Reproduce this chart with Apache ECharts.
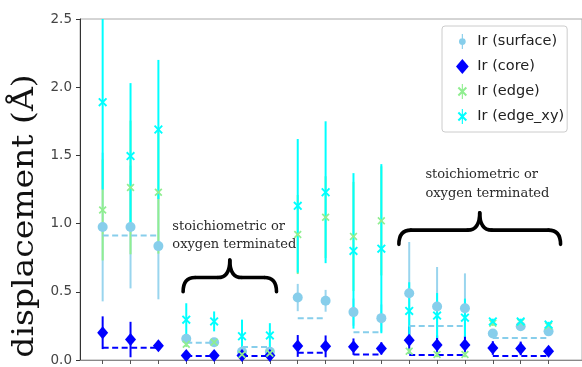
<!DOCTYPE html>
<html>
<head>
<meta charset="utf-8">
<script src="https://cdn.jsdelivr.net/npm/echarts@6/dist/echarts.min.js"></script>
<style>html,body{margin:0;padding:0;background:#fff;}#c{width:582px;height:367px;}</style>
</head>
<body>
<div id="c"></div>
<script>
// ---- data ----
const positions = [1,2,3,4,5,6,7,8,9,10,11,12,13,14,15,16,17];
const surface    = [0.975,0.975,0.835,0.155,0.13,0.06,0.06,0.458,0.434,0.351,0.307,0.49,0.392,0.38,0.194,0.247,0.21];
const surfaceErr = [0.545,0.45,0.39,0.02,0.02,0.02,0.02,0.10,0.08,0.10,0.10,0.375,0.29,0.255,0.03,0.03,0.03];
const core       = [0.2,0.15,0.105,0.033,0.033,0.033,0.033,0.103,0.1,0.098,0.085,0.145,0.11,0.11,0.088,0.085,0.065];
const coreErr    = [0.12,0.13,0.03,0.01,0.01,0.01,0.01,0.08,0.08,0.06,0.045,0.1,0.07,0.07,0.05,0.05,0.03];
const edge       = [1.10,1.265,1.23,0.116,0.13,0.04,0.05,0.92,1.047,0.906,1.02,0.065,0.04,0.04,0.27,0.276,0.25];
const edgeErr    = [0.37,0.49,0.45,0.02,0.02,0.01,0.01,0.29,0.30,0.40,0.40,0.02,0.02,0.02,0.02,0.02,0.02];
const edgeXY     = [1.89,1.495,1.69,0.296,0.283,0.174,0.18,1.13,1.23,0.80,0.816,0.36,0.326,0.31,0.283,0.283,0.26];
const edgeXYErr  = [0.64,0.535,0.51,0.12,0.073,0.122,0.09,0.49,0.52,0.57,0.62,0.21,0.165,0.14,0.02,0.02,0.02];
// reference (dashed) levels per group
const groupStart = [1,4,6,8,10,12,15];
const groupEnd   = [3,5,7,9,11,14,17];
const surfaceRef = [0.913,0.126,0.095,0.307,0.203,0.25,0.162];
const coreRef    = [0.09,0.03,0.03,0.053,0.04,0.036,0.03];
const seriesNames = ['Ir (surface)','Ir (core)','Ir (edge)','Ir (edge_xy)'];
const yTicks = [0,0.5,1.0,1.5,2.0,2.5];
// annotations (data coordinates)
const annoLines = ['stoichiometric or','oxygen terminated'];
const annoTextX = [3.50, 12.58];
const annoTextY = [0.978, 1.357];
const braceX0 = [3.887, 11.63];
const braceX1 = [7.238, 17.43];
const braceYEnd = [0.50, 0.848];
const braceYTip = [0.732, 1.08];

const C_SURF = '#87CEEB', C_CORE = '#0000FF', C_EDGE = '#90EE90', C_XY = '#00FFFF';
const X_PATH = 'path://M0,1.5L1.5,0L5,3.5L8.5,0L10,1.5L6.5,5L10,8.5L8.5,10L5,6.5L1.5,10L0,8.5L3.5,5Z';
const X_LEG = 'path://M0,4.5L1.5,3L5,6.5L8.5,3L10,4.5L6.5,8L10,11.5L8.5,13L5,9.5L1.5,13L0,11.5L3.5,8Z M4.4,0H5.6V16H4.4Z';
const C_LEG = 'path://M8.6,8A3.6,3.6,0,1,1,1.4,8A3.6,3.6,0,1,1,8.6,8Z M4.4,0H5.6V16H4.4Z';
const D_LEG = 'path://M5.5,1.5L11,8L5.5,14.5L0,8Z';

function pts(v){ return positions.map((x,i)=>[x, v[i]]); }
function errData(v,e){ return positions.map((x,i)=>[x, v[i], e[i]]); }
function errSeries(v,e,color,z){
  return {type:'custom', clip:true, z:z, silent:true, data:errData(v,e),
    renderItem:function(params, api){
      const x=api.value(0), y=api.value(1), d=api.value(2);
      const a=api.coord([x,y-d]), b=api.coord([x,y+d]);
      return {type:'line', shape:{x1:a[0],y1:a[1],x2:b[0],y2:b[1]}, style:{stroke:color,lineWidth:2}};
    }};
}
function refSeries(ref,color,z){
  return {type:'custom', clip:true, z:z, silent:true,
    data: groupStart.map((s,i)=>[s, groupEnd[i], ref[i]]),
    renderItem:function(params, api){
      const a=api.coord([api.value(0), api.value(2)]), b=api.coord([api.value(1), api.value(2)]);
      return {type:'line', shape:{x1:a[0],y1:a[1],x2:b[0],y2:b[1]}, style:{stroke:color,lineWidth:2,lineDash:[6,3.5]}};
    }};
}

const chart = echarts.init(document.getElementById('c'), null, {renderer:'canvas'});
chart.setOption({
  animation:false,
  backgroundColor:'#fff',
  grid:{left:80, right:-13, top:19, bottom:3, show:true, borderColor:'#aaa', borderWidth:1},
  xAxis:{type:'value', min:0.187, max:18.2,
    axisLine:{show:true, onZero:false, lineStyle:{color:'#888'}},
    axisTick:{show:true, customValues:positions, length:4, lineStyle:{color:'#555'}},
    axisLabel:{show:false}, splitLine:{show:false}},
  yAxis:{type:'value', min:0, max:2.5, interval:0.5,
    axisLine:{show:true, lineStyle:{color:'#333'}},
    axisTick:{show:true, length:4, lineStyle:{color:'#333'}},
    axisLabel:{margin:8, color:'#444', fontSize:13.5, fontFamily:'DejaVu Sans',
      formatter:function(v){ return v.toFixed(1); }},
    splitLine:{show:false}},
  legend:{orient:'vertical', left:442, top:26, padding:[8,3,8,14], itemGap:10,
    itemWidth:20, itemHeight:15, backgroundColor:'rgba(255,255,255,0.85)',
    borderColor:'#ccc', borderWidth:1, borderRadius:3,
    textStyle:{fontSize:14.5, color:'#222', fontFamily:'DejaVu Sans'},
    data:[{name:seriesNames[0], icon:C_LEG},{name:seriesNames[1], icon:D_LEG},
          {name:seriesNames[2], icon:X_LEG},{name:seriesNames[3], icon:X_LEG}]},
  series:[
    errSeries(surface,surfaceErr,'rgba(135,206,235,0.85)',1),
    errSeries(core,coreErr,C_CORE,2),
    errSeries(edge,edgeErr,C_EDGE,3),
    errSeries(edgeXY,edgeXYErr,C_XY,4),
    refSeries(surfaceRef,C_SURF,5),
    refSeries(coreRef,C_CORE,5),
    {name:seriesNames[0], type:'scatter', z:6, symbol:'circle', symbolSize:10, data:pts(surface), itemStyle:{color:C_SURF, opacity:1}},
    {name:seriesNames[1], type:'scatter', z:7, symbol:'diamond', symbolSize:[11,13], data:pts(core), itemStyle:{color:C_CORE, opacity:1}},
    {name:seriesNames[2], type:'scatter', z:8, symbol:X_PATH, symbolSize:8, data:pts(edge), itemStyle:{color:C_EDGE, opacity:1}},
    {name:seriesNames[3], type:'scatter', z:9, symbol:X_PATH, symbolSize:9, data:pts(edgeXY), itemStyle:{color:C_XY, opacity:1}}
  ]
});

const braceStyle = {fill:'none', stroke:'#000', lineWidth:3.6, lineCap:'round'};
function braceParts(i){
  const p0 = chart.convertToPixel({gridIndex:0},[braceX0[i], braceYEnd[i]]);
  const p1 = chart.convertToPixel({gridIndex:0},[braceX1[i], braceYEnd[i]]);
  const pt = chart.convertToPixel({gridIndex:0},[(braceX0[i]+braceX1[i])/2, braceYTip[i]]);
  const x0=p0[0], x1=p1[0], yE=p0[1], xm=pt[0], yT=pt[1];
  const yB = yT + (yE-yT)*0.55, r=12;
  const curve = (a,b,c,d,e,f)=>({type:'bezierCurve', silent:true, shape:{x1:a,y1:b,cpx1:c,cpy1:d,x2:e,y2:f}, style:braceStyle});
  const line = (a,b,c,d)=>({type:'line', silent:true, shape:{x1:a,y1:b,x2:c,y2:d}, style:braceStyle});
  return [
    curve(x0,yE, x0,yB, x0+r,yB),
    line(x0+r,yB, xm-r,yB),
    curve(xm-r,yB, xm,yB, xm,yT),
    curve(xm,yT, xm,yB, xm+r,yB),
    line(xm+r,yB, x1-r,yB),
    curve(x1-r,yB, x1,yB, x1,yE)
  ];
}
const gfx = [];
for (let i=0;i<2;i++){
  const tp = chart.convertToPixel({gridIndex:0},[annoTextX[i], annoTextY[i]]);
  gfx.push({type:'text', x:tp[0], y:tp[1]-9, silent:true,
    style:{text:annoLines.join('\n'), fill:'#2a2a2a', font:'13px "DejaVu Serif"', lineHeight:18.3, textAlign:'left', textVerticalAlign:'top'}});
  braceParts(i).forEach(p=>gfx.push(p));
}
gfx.push({type:'text', x:25, y:216, rotation:Math.PI/2, scaleX:1.1, silent:true,
  style:{text:'displacement (Å)', fill:'#111', font:'30px "DejaVu Serif"', textAlign:'center', textVerticalAlign:'middle'}});
chart.setOption({graphic:gfx});
</script>
</body>
</html>
